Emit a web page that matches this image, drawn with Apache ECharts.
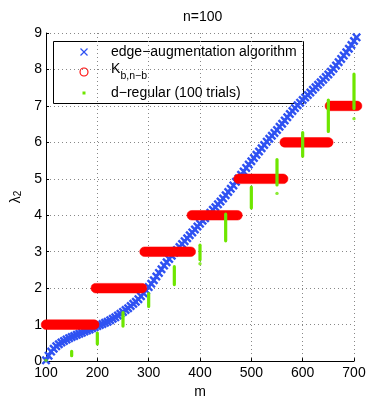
<!DOCTYPE html>
<html>
<head>
<meta charset="utf-8">
<script src="https://cdn.jsdelivr.net/npm/echarts@6/dist/echarts.min.js"></script>
<style>
html,body{margin:0;padding:0;background:#fff;}
#c{width:374px;height:404px;}
</style>
</head>
<body>
<div id="c"></div>
<script>
// ---- data ----
const titleText = 'n=100';
const xTicks = [100, 200, 300, 400, 500, 600, 700];
const yTicks = [0, 1, 2, 3, 4, 5, 6, 7, 8, 9];
const legendNames = ['edge\u2212augmentation algorithm', 'K', 'd\u2212regular (100 trials)'];
const kbSub = 'b,n\u2212b';

// edge-augmentation algorithm (m, lambda2)
const blueM = [100,105,110,115,120,125,130,135,140,145,150,155,160,165,170,175,180,185,190,195,
  200,205,210,215,220,225,230,235,240,245,250,255,260,265,270,275,280,285,290,295,
  300,305,310,315,320,325,330,335,340,345,350,355,360,365,370,375,380,385,390,395,
  400,405,410,415,420,425,430,435,440,445,450,455,460,465,470,475,480,485,490,495,
  500,505,510,515,520,525,530,535,540,545,550,555,560,565,570,575,580,585,590,595,
  600,605,610,615,620,625,630,635,640,645,650,655,660,665,670,675,680,685,690,695,700,705];
const blueL = [0.02,0.15,0.26,0.34,0.41,0.46,0.51,0.55,0.59,0.63,0.66,0.69,0.72,0.75,0.78,0.81,0.84,0.87,0.90,0.93,
  0.96,0.99,1.02,1.05,1.08,1.12,1.16,1.20,1.25,1.30,1.35,1.40,1.45,1.51,1.57,1.63,1.70,1.78,1.86,1.94,
  2.03,2.12,2.22,2.32,2.42,2.52,2.62,2.71,2.80,2.89,2.97,3.05,3.13,3.21,3.29,3.37,3.45,3.53,3.61,3.69,
  3.77,3.85,3.92,4.00,4.07,4.15,4.22,4.30,4.38,4.46,4.55,4.64,4.73,4.82,4.92,5.01,5.11,5.20,5.30,5.39,
  5.48,5.57,5.66,5.75,5.84,5.93,6.02,6.10,6.18,6.26,6.34,6.43,6.51,6.60,6.69,6.78,6.86,6.94,7.02,7.09,
  7.16,7.23,7.30,7.37,7.44,7.51,7.58,7.65,7.72,7.79,7.86,7.94,8.02,8.11,8.20,8.29,8.38,8.47,8.57,8.67,8.78,8.88];

// K_{b,n-b}: horizontal runs at level b
const kbLevel = [1, 2, 3, 4, 5, 6, 7];
const kbStart = [100, 197, 292, 384, 475, 565, 653];
const kbEnd   = [194, 287, 382, 473, 562, 650, 706];

// d-regular (100 trials): vertical ranges
const dregM  = [150, 200, 250, 300, 350, 400, 450, 500, 550, 600, 650, 700];
const dregLo = [0.15, 0.47, 0.96, 1.50, 2.10, 2.78, 3.30, 4.20, 4.83, 5.62, 6.30, 6.93];
const dregHi = [0.27, 0.77, 1.33, 1.85, 2.59, 3.18, 4.03, 4.77, 5.53, 6.27, 7.16, 7.87];
const dregOutM = [100, 400, 550, 700];
const dregOutL = [0.02, 2.67, 4.60, 6.65];

// ---- build ----
const FONT = 'Liberation Sans';
const BLUE = '#2f52f2', RED = '#ff0000', GREEN = '#6ee600';
const blueData = blueM.map((m, i) => [m, blueL[i]]);
const kbData = kbLevel.map((b, i) => [kbStart[i], kbEnd[i], b]);
const dregData = dregM.map((m, i) => [m, dregLo[i], dregHi[i]]);
const dregOut = dregOutM.map((m, i) => [m, dregOutL[i]]);

const xPath = 'path://M0,1.9L1.9,0L5,3.1L8.1,0L10,1.9L6.9,5L10,8.1L8.1,10L5,6.9L1.9,10L0,8.1L3.1,5Z';

const chart = echarts.init(document.getElementById('c'), null, {renderer: 'canvas'});

const LX = 53, LY = 41, LW = 250, LH = 62;
const rowY = [52, 72, 93];
const iconX = 84, textX = 111;
const KB_R = 4.8, DR_W = 3.2;

// stadium outline between two centres on the same row (drawing helper, no data)
function stadium(xa, xb, y, r) {
  const pts = [];
  const n = 10;
  for (let k = 0; k <= n; k++) {
    const a = Math.PI / 2 + Math.PI * k / n;
    pts.push([xa + r * Math.cos(a), y + r * Math.sin(a)]);
  }
  for (let k = 0; k <= n; k++) {
    const a = -Math.PI / 2 + Math.PI * k / n;
    pts.push([xb + r * Math.cos(a), y + r * Math.sin(a)]);
  }
  return pts;
}

const axisCommon = {
  z: 0,
  axisLine: {show: true, onZero: false, lineStyle: {color: '#000', width: 1}},
  axisTick: {show: true, inside: true, length: 3, lineStyle: {color: '#000'}},
  splitLine: {show: true, lineStyle: {color: '#888', width: 1, type: [1, 3]}}
};

chart.setOption({
  animation: false,
  backgroundColor: '#fff',
  textStyle: {fontFamily: FONT},
  title: {
    text: titleText, left: 183, top: 10, padding: 0,
    textStyle: {fontFamily: FONT, fontSize: 14, fontWeight: 'normal', color: '#000'}
  },
  grid: {left: 46, right: 20, top: 33, bottom: 41, containLabel: false},
  xAxis: Object.assign({}, axisCommon, {
    type: 'value', min: xTicks[0], max: xTicks[xTicks.length - 1], interval: 100,
    name: 'm', nameLocation: 'middle', nameGap: 20,
    nameTextStyle: {fontFamily: FONT, fontSize: 14, color: '#000'},
    axisLabel: {fontFamily: FONT, fontSize: 14, color: '#000', margin: 5}
  }),
  yAxis: Object.assign({}, axisCommon, {
    type: 'value', min: yTicks[0], max: yTicks[yTicks.length - 1], interval: 1,
    name: '{l|\u03bb}{s|2}', nameLocation: 'middle', nameGap: 21, nameRotate: 90,
    nameTextStyle: {
      fontFamily: FONT, fontSize: 14, color: '#000',
      rich: {
        l: {fontFamily: FONT, fontSize: 14, color: '#000', lineHeight: 14, verticalAlign: 'top'},
        s: {fontFamily: FONT, fontSize: 10, color: '#000', lineHeight: 10, verticalAlign: 'bottom'}
      }
    },
    axisLabel: {fontFamily: FONT, fontSize: 14, color: '#000', margin: 4}
  }),
  series: [
    {
      name: legendNames[0], type: 'scatter', data: blueData,
      symbol: xPath, symbolSize: 9, clip: false, z: 5,
      itemStyle: {color: BLUE, opacity: 1}
    },
    {
      name: legendNames[1], type: 'custom', data: kbData, z: 6, clip: false,
      encode: {x: [0, 1], y: 2},
      renderItem: function (params, api) {
        const p1 = api.coord([api.value(0), api.value(2)]);
        const p2 = api.coord([api.value(1), api.value(2)]);
        return {type: 'polygon', z2: 10,
          shape: {points: stadium(p1[0], p2[0], p1[1], KB_R)},
          style: {fill: RED, stroke: RED, lineWidth: 0.5, opacity: 1}};
      }
    },
    {
      name: legendNames[2], type: 'custom', data: dregData, z: 7, clip: false,
      encode: {x: 0, y: [1, 2]},
      renderItem: function (params, api) {
        const p1 = api.coord([api.value(0), api.value(1)]);
        const p2 = api.coord([api.value(0), api.value(2)]);
        return {type: 'rect', z2: 10,
          shape: {x: p1[0] - DR_W / 2, y: p2[1] - DR_W / 2, width: DR_W, height: p1[1] - p2[1] + DR_W, r: DR_W / 2},
          style: {fill: GREEN, stroke: null, lineWidth: 0}};
      }
    },
    {
      name: legendNames[2], type: 'scatter', data: dregOut,
      symbol: 'circle', symbolSize: 3.4, clip: false, z: 7,
      itemStyle: {color: GREEN}
    }
  ],
  graphic: [{
    type: 'group', z: 100,
    children: [
      {type: 'rect', shape: {x: LX + 0.5, y: LY + 0.5, width: LW, height: LH},
        style: {fill: '#fff', stroke: '#000', lineWidth: 1}},
      {type: 'line', shape: {x1: iconX - 3.5, y1: rowY[0] - 3.5, x2: iconX + 3.5, y2: rowY[0] + 3.5},
        style: {stroke: BLUE, lineWidth: 1.3}},
      {type: 'line', shape: {x1: iconX - 3.5, y1: rowY[0] + 3.5, x2: iconX + 3.5, y2: rowY[0] - 3.5},
        style: {stroke: BLUE, lineWidth: 1.3}},
      {type: 'circle', shape: {cx: iconX, cy: rowY[1], r: 4},
        style: {fill: '#fff', stroke: RED, lineWidth: 1.1}},
      {type: 'rect', shape: {x: iconX - 1.5, y: rowY[2] - 1.5, width: 3, height: 3},
        style: {fill: GREEN}},
      {type: 'text', x: textX, y: rowY[0],
        style: {text: legendNames[0], font: '14px "' + FONT + '"', fill: '#000', verticalAlign: 'middle', align: 'left'}},
      {type: 'text', x: textX, y: rowY[1] - 3,
        style: {text: legendNames[1], font: '14px "' + FONT + '"', fill: '#000', verticalAlign: 'middle', align: 'left'}},
      {type: 'text', x: textX + 9.4, y: rowY[1] + 4.5,
        style: {text: kbSub, font: '10.5px "' + FONT + '"', fill: '#000', verticalAlign: 'middle', align: 'left'}},
      {type: 'text', x: textX, y: rowY[2],
        style: {text: legendNames[2], font: '14px "' + FONT + '"', fill: '#000', verticalAlign: 'middle', align: 'left'}}
    ]
  }]
});
</script>
</body>
</html>
